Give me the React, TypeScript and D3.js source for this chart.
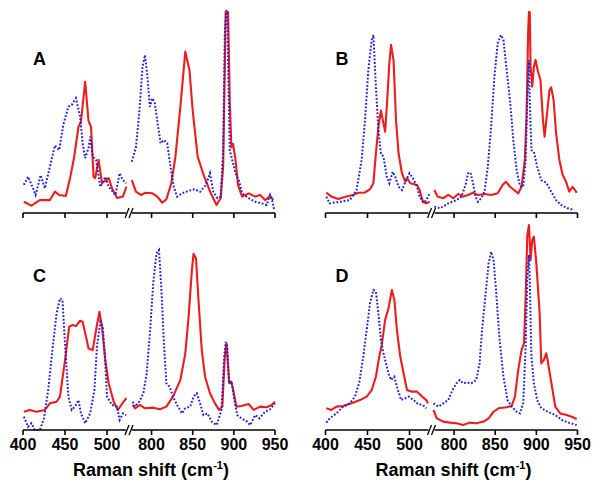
import React from 'react';
import * as d3 from 'd3';

type P = [number, number];

// x ticks
const lowTicks = [400, 450, 500];
const highTicks = [800, 850, 900, 950];
const panelLabels = ['A', 'B', 'C', 'D'];
const axisTitle = 'Raman shift (cm';

// Panel A
const A_red_low: P[] = [[401,5.5],[410,3.6],[420,6.3],[432,6.3],[438,10.4],[443,8.8],[451,8.3],[456,16.9],[461,27.5],[466,42],[469,44.5],[474,64],[478,45],[481,42],[484,17.7],[486,17],[490,26],[494,14.6],[502,17],[506,12],[512,7.3],[519,8],[523,12.8]];
const A_blue_low: P[] = [[401,13.7],[406,17.7],[412,12],[415,8.8],[421,18.5],[426,12],[432,22.6],[438,33],[443,30.7],[448,43],[454,51.9],[458,52.7],[463,56],[468,47],[471,34],[474,26.8],[478,31.7],[480,37.2],[483,27.5],[487,25.9],[492,12.8],[498,17.7],[502,12.8],[510,8.8],[515,19.4],[519,16],[523,14.5]];
const A_red_high: P[] = [[776,16],[781,10.4],[787,8.8],[793,9.9],[801,9.6],[807,8],[813,5],[818,6.7],[824,14.5],[829,27.5],[835,51.9],[841,78.7],[846,69.8],[850,50],[856,27.5],[864,17.7],[872,9.6],[879,3.9],[884,7.2],[887,22.6],[889,71],[890,98],[893,98],[895,55],[897,32],[899,33.7],[902,25.9],[905,13.7],[910,8],[918,9.6],[926,8],[932,8.8],[938,6.3],[944,8.3],[948,6.3]];
const A_blue_high: P[] = [[776,25],[781,32],[785,48.6],[789,71.4],[792,77],[795,66.5],[798,51.9],[801,56],[804,53.5],[808,42],[811,34],[815,35.6],[819,34],[823,22.6],[827,12.8],[831,8],[837,9.6],[846,10.9],[852,11.6],[859,10.4],[866,13.7],[871,19.4],[875,10.4],[880,7.2],[884,8],[887,30.7],[889,87.7],[891,99],[892,98],[893.5,63],[895,30.7],[898,25.9],[902,19.4],[906,16],[910,9.6],[918,7.2],[926,5.5],[934,4.7],[940,3.9],[944,8.8],[947,5.5],[949,1.5]];

// Panel B
const B_red_low: P[] = [[401,9.9],[407,8],[415,6.8],[425,8],[433,8.8],[439,9.9],[447,10],[453,11.6],[457,14.5],[460,29],[463,42],[466,50],[469,43.7],[471,39.7],[473,51.9],[476,73],[478,82],[481,74.6],[484,45],[487,29],[491,19.4],[495,15.3],[497,17],[501,14.5],[509,13.7],[512,11.2],[516,5.5],[520,4.7],[524,5.5]];
const B_blue_low: P[] = [[401,8],[405,4.7],[417,5.5],[429,6.3],[437,11.2],[443,25.9],[447,45],[451,69.8],[455,84.4],[457,86.8],[460,61.6],[463,40.5],[466,29],[469,27.5],[473,17.7],[476,14.5],[480,20.1],[483,17.7],[487,12.8],[491,11.2],[496,16],[500,19.4],[504,17],[509,12.8],[512,8],[517,5],[520,6.3],[524,9.6]];
const B_red_high: P[] = [[776,11.2],[780,8],[787,7.2],[793,8.8],[799,7.2],[805,9.3],[811,8],[817,8.8],[823,9.9],[829,8.8],[837,9.3],[845,8.8],[853,9.6],[859,13.7],[863,15.3],[868,12.8],[873,11.2],[878,9.6],[882,12.8],[886,25.9],[888,47],[890,87.7],[891,98],[892,98],[893,71.4],[895,61.6],[897,71.4],[899,74.6],[902,68.9],[905,64.9],[908,45.4],[910,37.2],[913,48.6],[916,60],[918,61.3],[921,55],[924,38.9],[928,25.9],[932,18.5],[936,15.3],[940,10.4],[944,12.8],[947,11.2],[949,9.9]];
const B_blue_high: P[] = [[776,3.1],[783,2.3],[793,4.7],[803,6.3],[809,8],[814,13.7],[817,19.4],[820,19.7],[823,14.5],[826,8],[829,5.5],[833,7.2],[837,10.4],[841,22.6],[845,42],[849,66.5],[853,82.8],[857,86.8],[860,84.4],[863,73],[868,55],[872,35.6],[876,21],[880,13.2],[884,12.8],[887,25.9],[889,55],[891,74.6],[892,55],[894,30.7],[897,29.9],[901,22.6],[906,16],[912,14.8],[918,10.4],[924,6.3],[930,3.9],[938,2.3],[946,1.5]];

// Panel C
const C_red_low: P[] = [[401,8.9],[408,9.8],[416,8.9],[426,9.8],[432,13],[440,13.8],[444,16.3],[450,34],[455,50.4],[459,51.2],[463,50.7],[468,53.3],[471,52.8],[475,45.5],[478,39.8],[483,39],[487,48.8],[491,57.7],[494,50.4],[498,34],[502,22.8],[508,13.8],[513,9.8],[517,12.2],[523,15.5]];
const C_blue_low: P[] = [[401,6.5],[406,1.6],[410,3.3],[414,0],[420,0],[425,5.7],[430,19.5],[435,39],[440,57],[444,64.2],[447,63.4],[450,42.3],[454,16.3],[458,9.8],[462,11.4],[466,14.6],[469,8.1],[474,3.3],[480,8.1],[485,19.5],[488,40.6],[492,52.8],[495,50.4],[498,32.5],[500,16.3],[506,12.2],[512,11.4],[515,4.9],[519,8.1],[523,7.3]];
const C_red_high: P[] = [[777,12.2],[780,10.6],[786,12.2],[792,10.6],[802,10.9],[810,10.1],[818,11.4],[826,16.3],[835,24.4],[841,37.4],[845,55.3],[849,78],[851,85.9],[854,83.7],[857,63.4],[861,39],[865,26],[871,17.9],[877,13],[882,9.8],[886,11.4],[889,35.8],[891,42.3],[892.5,34],[894.5,22.8],[897,23.6],[900,17.9],[903,11.4],[909,11.7],[918,12.7],[924,9.8],[932,11.4],[940,11.1],[946,12.2],[950,13.8]];
const C_blue_high: P[] = [[777,13.8],[780,11.4],[785,13.8],[790,17.9],[794,27.6],[798,47.2],[802,71.6],[806,86.2],[809,87.8],[812,68.3],[815,42.3],[818,22.8],[822,21.1],[826,16.3],[831,12.2],[837,8.1],[841,10.6],[847,11.4],[851,16.3],[855,17.9],[859,13],[863,7.3],[868,8.1],[873,4.1],[879,2.4],[885,9.8],[888,34],[890,43],[892,40.6],[894,22.8],[897,23.6],[900,16.3],[904,7.3],[909,5.7],[916,4.1],[920,2.4],[926,7.3],[931,5.7],[938,8.9],[944,10.1],[950,13]];

// Panel D
const D_red_low: P[] = [[401,10.6],[407,9.8],[413,11.4],[421,11.7],[431,13],[441,14.6],[449,16.3],[455,19.5],[460,26],[464,35.8],[467,41.5],[471,53.7],[475,59.4],[479,68.3],[482,63.4],[485,48.8],[489,35.8],[493,27.6],[497,19.5],[503,18.7],[509,18.7],[515,16.3],[520,14.6],[522,13]];
const D_blue_low: P[] = [[401,3.6],[405,5.7],[413,8.1],[421,11.4],[429,13],[435,16.3],[440,22.8],[445,35.8],[449,48.8],[453,61.8],[457,68.3],[460,67.5],[463,56.9],[466,43.9],[469,37.4],[472,32.5],[475,27.6],[478,24.4],[482,26],[485,21.1],[490,14.6],[495,15.5],[499,16.3],[505,14.6],[510,12.7],[516,12.2],[520,10.6]];
const D_red_high: P[] = [[775,9.8],[779,5.7],[787,4.1],[795,3.6],[803,3.3],[811,2.4],[819,3.6],[827,3.3],[836,4.1],[842,5.7],[848,8.9],[854,10.6],[864,11.1],[870,11.7],[874,16.3],[878,29.3],[882,39],[885,42.3],[887,65],[889,95],[891,100],[893,83],[895,92.7],[897,94.3],[900,81.3],[904,56.9],[906,32.5],[909,34.1],[912,37.4],[914,33.3],[919,21.1],[923,11.4],[929,8.1],[937,7.3],[943,6.5],[949,5.4]];
const D_blue_high: P[] = [[775,13],[781,11.4],[787,13],[793,14.6],[798,19.5],[803,22.8],[807,24.4],[811,22.8],[815,23.1],[821,22.8],[827,24.4],[831,32.5],[834,48.8],[838,65],[842,81.3],[845,87],[848,82.9],[851,68.3],[855,45.5],[860,26],[865,14.6],[870,11.4],[876,8.9],[880,8.1],[884,13],[887,40.6],[889,73.2],[891,85.4],[892,73.2],[894,35.8],[897,22.8],[901,14.6],[906,10.6],[914,8.9],[923,7.3],[931,4.9],[939,3.6],[949,2.4]];

const RED = '#ee1c1c';
const BLUE = '#2020d8';

interface PanelProps {
  x0: number;
  axisY: number;
  label: string;
  redLow: P[]; redHigh: P[]; blueLow: P[]; blueHigh: P[];
  showLabels: boolean;
}

const Panel: React.FC<PanelProps> = ({ x0, axisY, label, redLow, redHigh, blueLow, blueHigh, showLabels }) => {
  const xl = d3.scaleLinear().domain([400, 525]).range([x0, x0 + 105]);
  const xh = d3.scaleLinear().domain([775, 950]).range([x0 + 108, x0 + 252]);
  const y = d3.scaleLinear().domain([0, 100]).range([axisY, axisY - 205]);
  const lineL = d3.line<P>().x(d => xl(d[0])).y(d => y(d[1]));
  const lineH = d3.line<P>().x(d => xh(d[0])).y(d => y(d[1]));
  const ff = 'Arial, "Liberation Sans", Helvetica, sans-serif';
  const bx = x0 + 106;
  const cx = x0 + 128;
  return (
    <g>
      <text x={x0 + 10} y={axisY - 148} fontFamily={ff} fontWeight="bold" fontSize={18} fill="#000">{label}</text>
      <path d={lineL(redLow) || ''} fill="none" stroke={RED} strokeWidth={2.1} strokeLinejoin="round" />
      <path d={lineH(redHigh) || ''} fill="none" stroke={RED} strokeWidth={2.1} strokeLinejoin="round" />
      <path d={lineL(blueLow) || ''} fill="none" stroke={BLUE} strokeWidth={2} strokeDasharray="1.8 1.8" />
      <path d={lineH(blueHigh) || ''} fill="none" stroke={BLUE} strokeWidth={2} strokeDasharray="1.8 1.8" />
      <line x1={xl(400)} x2={bx - 3} y1={axisY} y2={axisY} stroke="#000" strokeWidth={1.6} />
      <line x1={bx + 3} x2={xh(950)} y1={axisY} y2={axisY} stroke="#000" strokeWidth={1.6} />
      <line x1={bx - 4} y1={axisY + 5} x2={bx} y2={axisY - 5} stroke="#000" strokeWidth={1.3} />
      <line x1={bx} y1={axisY + 5} x2={bx + 4} y2={axisY - 5} stroke="#000" strokeWidth={1.3} />
      {lowTicks.map(t => (
        <g key={'l' + t}>
          <line x1={xl(t)} x2={xl(t)} y1={axisY} y2={axisY + 5} stroke="#000" strokeWidth={1.6} />
          {showLabels && <text x={xl(t)} y={axisY + 20} textAnchor="middle" fontFamily={ff} fontWeight="bold" fontSize={16}>{t}</text>}
        </g>
      ))}
      {highTicks.map(t => (
        <g key={'h' + t}>
          <line x1={xh(t)} x2={xh(t)} y1={axisY} y2={axisY + 5} stroke="#000" strokeWidth={1.6} />
          {showLabels && <text x={xh(t)} y={axisY + 20} textAnchor="middle" fontFamily={ff} fontWeight="bold" fontSize={16}>{t}</text>}
        </g>
      ))}
      {showLabels && (
        <text x={cx} y={axisY + 46} textAnchor="middle" fontFamily={ff} fontWeight="bold" fontSize={18}>
          {axisTitle}<tspan fontSize={11} dy={-7}>-1</tspan><tspan dy={7}>)</tspan>
        </text>
      )}
    </g>
  );
};

export default function App() {
  return (
    <svg width={602} height={488} style={{ position: 'absolute', left: 0, top: 0, background: '#fff' }}>
      <rect width={602} height={488} fill="#fff" />
      <Panel x0={23} axisY={213} label={panelLabels[0]} redLow={A_red_low} redHigh={A_red_high} blueLow={A_blue_low} blueHigh={A_blue_high} showLabels={false} />
      <Panel x0={325.5} axisY={213} label={panelLabels[1]} redLow={B_red_low} redHigh={B_red_high} blueLow={B_blue_low} blueHigh={B_blue_high} showLabels={false} />
      <Panel x0={23} axisY={430} label={panelLabels[2]} redLow={C_red_low} redHigh={C_red_high} blueLow={C_blue_low} blueHigh={C_blue_high} showLabels={true} />
      <Panel x0={325.5} axisY={430} label={panelLabels[3]} redLow={D_red_low} redHigh={D_red_high} blueLow={D_blue_low} blueHigh={D_blue_high} showLabels={true} />
    </svg>
  );
}
